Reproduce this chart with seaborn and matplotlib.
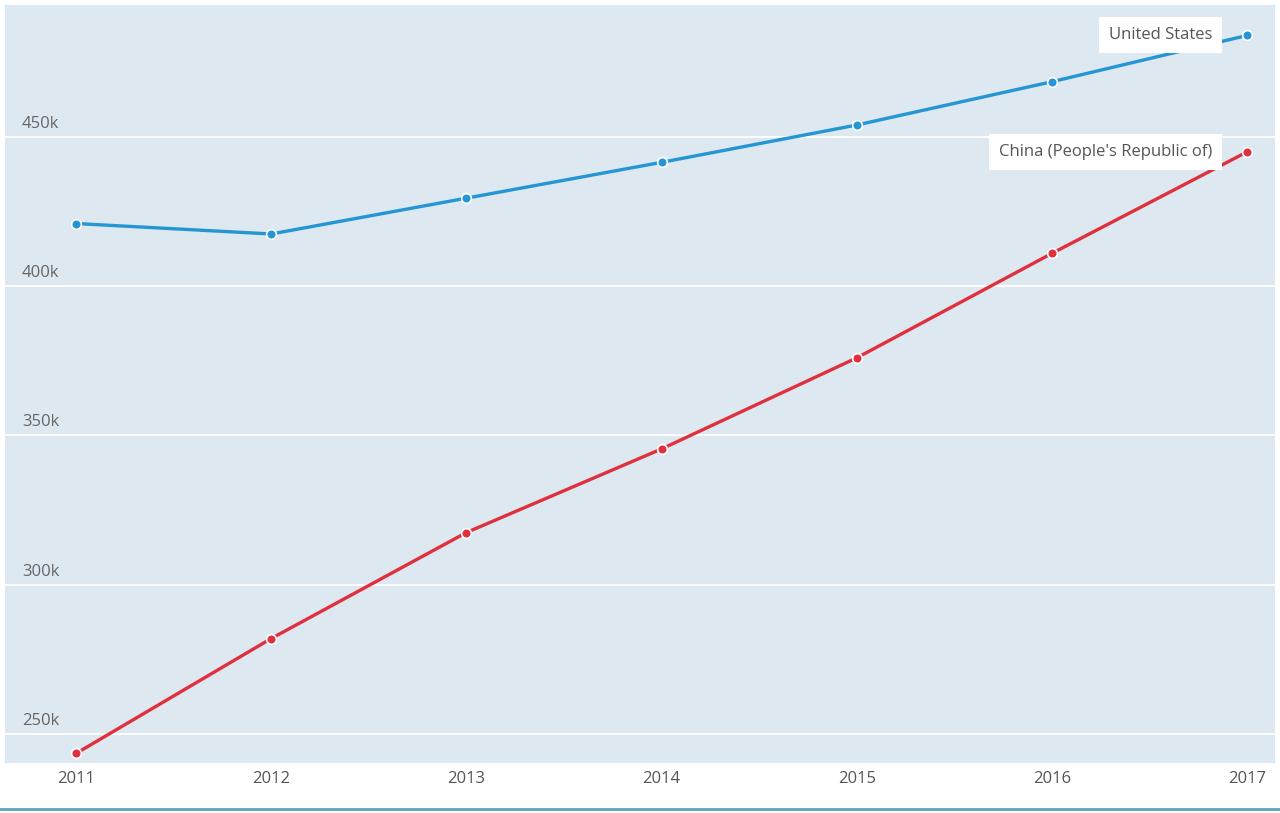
import matplotlib
matplotlib.use("Agg")
import matplotlib.pyplot as plt
import seaborn as sns
import pandas as pd
from matplotlib.lines import Line2D

years = [2011, 2012, 2013, 2014, 2015, 2016, 2017]
united_states = [421000, 417500, 429500, 441500, 454000, 468500, 484000]
china = [243500, 282000, 317500, 345500, 376000, 411000, 445000]
series_names = ["United States", "China (People's Republic of)"]
y_ticks = [250000, 300000, 350000, 400000, 450000]
y_tick_labels = ["250k", "300k", "350k", "400k", "450k"]

df = pd.DataFrame({
    "year": years * 2,
    "value": united_states + china,
    "country": [series_names[0]] * len(years) + [series_names[1]] * len(years),
})

sns.set_theme(style="white")
plt.rcParams["font.family"] = ["Open Sans", "DejaVu Sans"]

fig = plt.figure(figsize=(12.8, 8.13), dpi=100)
ax = fig.add_axes([5 / 1280, 1 - 763 / 813, 1270 / 1280, 758 / 813])
ax.set_facecolor("#dde8f0")

palette = {series_names[0]: "#2496d3", series_names[1]: "#e0303d"}
sns.lineplot(data=df, x="year", y="value", hue="country", palette=palette,
             marker="o", markersize=7, markeredgecolor="white", markeredgewidth=1.2,
             linewidth=2.4, ax=ax, legend=False, zorder=3)

ax.set_xlim(2010.636, 2017.143)
ax.set_ylim(240300, 494200)

for yt in y_ticks:
    ax.axhline(yt, color="white", linewidth=1.3, zorder=1)

ax.set_yticks(y_ticks)
ax.set_yticklabels([])
ax.tick_params(axis="y", length=0)
for yt, lab in zip(y_ticks, y_tick_labels):
    ax.annotate(lab, xy=(0, yt), xycoords=("axes fraction", "data"),
                xytext=(17, 5), textcoords="offset pixels",
                ha="left", va="bottom", fontsize=12, color="#666666", zorder=2)

ax.set_xticks(years)
ax.set_xticklabels([str(y) for y in years], fontsize=12, color="#555555")
ax.tick_params(axis="x", direction="in", length=5, color="white", width=1.2, pad=6)

for s in ax.spines.values():
    s.set_visible(False)
ax.set_xlabel("")
ax.set_ylabel("")

# end labels
for name, vals in zip(series_names, [united_states, china]):
    ax.annotate(name, xy=(years[-1], vals[-1]),
                xytext=(-25, 0), textcoords="offset points", ha="right", va="center",
                fontsize=12, color="#555555", zorder=5,
                bbox=dict(boxstyle="square,pad=0.6", fc="white", ec="none"))

# bottom teal rule
fig.add_artist(Line2D([0, 1], [1 - 809 / 813, 1 - 809 / 813], color="#5aa7b8",
                      linewidth=2, transform=fig.transFigure))

fig.savefig("out.png", dpi=100)
